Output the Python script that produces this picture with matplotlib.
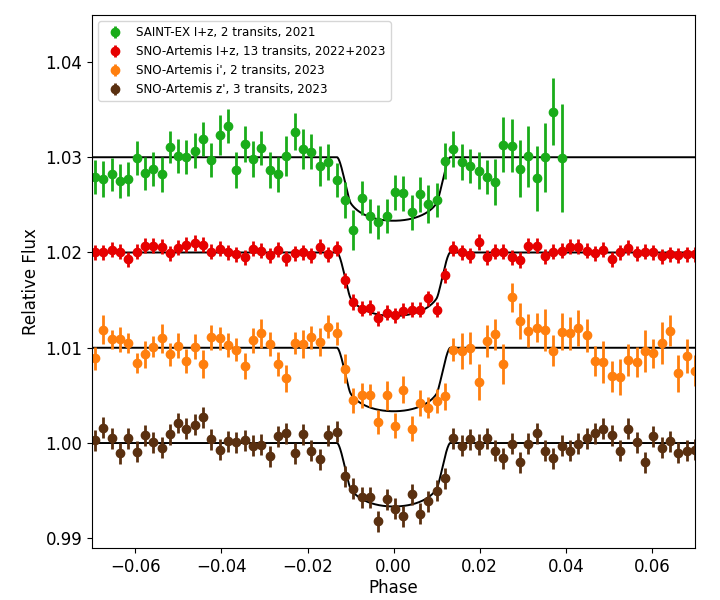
import numpy as np
import matplotlib
matplotlib.use("Agg")
import matplotlib.pyplot as plt

# bin centres in orbital phase (shared by all four light curves)
PHASE = [
    -0.0694, -0.0674, -0.0655, -0.0636, -0.0616, -0.0597, -0.0578, -0.0558, -0.0539, -0.0519,
    -0.0500, -0.0481, -0.0461, -0.0442, -0.0423, -0.0403, -0.0384, -0.0365, -0.0345, -0.0326,
    -0.0307, -0.0287, -0.0268, -0.0249, -0.0229, -0.0210, -0.0191, -0.0171, -0.0152, -0.0132,
    -0.0113, -0.0094, -0.0074, -0.0055, -0.0036, -0.0016, 0.0003, 0.0022, 0.0042, 0.0061,
    0.0080, 0.0100, 0.0119, 0.0138, 0.0158, 0.0177, 0.0197, 0.0216, 0.0235, 0.0255,
    0.0274, 0.0293, 0.0313, 0.0332, 0.0351, 0.0371, 0.0390, 0.0409, 0.0429, 0.0448,
    0.0467, 0.0487, 0.0506, 0.0525, 0.0545, 0.0564, 0.0584, 0.0603, 0.0622, 0.0642,
    0.0661, 0.0680, 0.0700,
]

# SAINT-EX (offset +0.03), only first 57 bins
GREEN_FLUX = [
    1.0279, 1.0277, 1.0282, 1.0275, 1.0277, 1.0299, 1.0283, 1.0288, 1.0282, 1.0311,
    1.0301, 1.0300, 1.0307, 1.0319, 1.0297, 1.0323, 1.0333, 1.0287, 1.0314, 1.0298,
    1.0310, 1.0287, 1.0282, 1.0301, 1.0327, 1.0309, 1.0306, 1.0291, 1.0295, 1.0276,
    1.0255, 1.0224, 1.0257, 1.0238, 1.0232, 1.0238, 1.0263, 1.0262, 1.0242, 1.0261,
    1.0251, 1.0255, 1.0296, 1.0309, 1.0295, 1.0291, 1.0286, 1.0279, 1.0274, 1.0313,
    1.0312, 1.0288, 1.0301, 1.0278, 1.0300, 1.0348, 1.0299,
]
GREEN_ERR = [
    0.0018, 0.0019, 0.0017, 0.0018, 0.0018, 0.0018, 0.0017, 0.0018, 0.0018, 0.0017,
    0.0018, 0.0018, 0.0018, 0.0018, 0.0018, 0.0021, 0.0018, 0.0019, 0.0019, 0.0019,
    0.0018, 0.0019, 0.0018, 0.0021, 0.0019, 0.0021, 0.0018, 0.0021, 0.0019, 0.0018,
    0.0019, 0.0021, 0.0018, 0.0018, 0.0018, 0.0018, 0.0018, 0.0018, 0.0018, 0.0018,
    0.0020, 0.0018, 0.0019, 0.0019, 0.0019, 0.0018, 0.0019, 0.0018, 0.0024, 0.0029,
    0.0028, 0.0030, 0.0032, 0.0034, 0.0036, 0.0035, 0.0057,
]

# SNO-Artemis I+z (offset +0.02)
RED_FLUX = [
    1.0200, 1.0200, 1.0203, 1.0201, 1.0193, 1.0201, 1.0207, 1.0207, 1.0206, 1.0199,
    1.0205, 1.0208, 1.0210, 1.0208, 1.0201, 1.0204, 1.0200, 1.0198, 1.0195, 1.0204,
    1.0202, 1.0197, 1.0203, 1.0194, 1.0199, 1.0200, 1.0197, 1.0206, 1.0198, 1.0204,
    1.0171, 1.0148, 1.0141, 1.0142, 1.0131, 1.0137, 1.0134, 1.0139, 1.0140, 1.0140,
    1.0152, 1.0140, 1.0176, 1.0204, 1.0200, 1.0197, 1.0211, 1.0195, 1.0201, 1.0201,
    1.0195, 1.0192, 1.0207, 1.0207, 1.0196, 1.0201, 1.0202, 1.0206, 1.0206, 1.0202,
    1.0199, 1.0203, 1.0193, 1.0200, 1.0205, 1.0199, 1.0201, 1.0200, 1.0196, 1.0198,
    1.0197, 1.0198, 1.0198,
]
RED_ERR = 0.0008

# SNO-Artemis i' (offset +0.01)
ORANGE_FLUX = [
    1.0089, 1.0119, 1.0109, 1.0109, 1.0105, 1.0084, 1.0093, 1.0101, 1.0110, 1.0093,
    1.0102, 1.0086, 1.0101, 1.0083, 1.0111, 1.0110, 1.0103, 1.0098, 1.0081, 1.0108,
    1.0115, 1.0104, 1.0083, 1.0068, 1.0105, 1.0104, 1.0111, 1.0106, 1.0122, 1.0115,
    1.0078, 1.0045, 1.0050, 1.0050, 1.0022, 1.0050, 1.0018, 1.0056, 1.0015, 1.0042,
    1.0037, 1.0044, 1.0049, 1.0098, 1.0097, 1.0100, 1.0064, 1.0107, 1.0114, 1.0083,
    1.0153, 1.0128, 1.0118, 1.0121, 1.0119, 1.0097, 1.0117, 1.0115, 1.0121, 1.0113,
    1.0086, 1.0085, 1.0070, 1.0069, 1.0087, 1.0085, 1.0097, 1.0094, 1.0105, 1.0118,
    1.0073, 1.0091, 1.0076,
]
ORANGE_ERR = [
    0.0012, 0.0015, 0.0010, 0.0013, 0.0011, 0.0011, 0.0014, 0.0011, 0.0015, 0.0012,
    0.0013, 0.0013, 0.0013, 0.0015, 0.0013, 0.0012, 0.0013, 0.0012, 0.0014, 0.0013,
    0.0015, 0.0013, 0.0013, 0.0014, 0.0012, 0.0015, 0.0012, 0.0015, 0.0012, 0.0012,
    0.0015, 0.0013, 0.0013, 0.0012, 0.0013, 0.0015, 0.0013, 0.0014, 0.0013, 0.0014,
    0.0011, 0.0013, 0.0014, 0.0012, 0.0019, 0.0017, 0.0019, 0.0017, 0.0016, 0.0021,
    0.0015, 0.0019, 0.0017, 0.0015, 0.0022, 0.0016, 0.0019, 0.0017, 0.0019, 0.0017,
    0.0016, 0.0022, 0.0016, 0.0019, 0.0017, 0.0016, 0.0022, 0.0015, 0.0022, 0.0016,
    0.0019, 0.0018, 0.0016,
]

# SNO-Artemis z' (no offset)
BROWN_FLUX = [
    1.0003, 1.0016, 1.0005, 0.9989, 1.0005, 0.9991, 1.0008, 1.0001, 0.9995, 1.0009,
    1.0021, 1.0015, 1.0019, 1.0027, 1.0004, 0.9993, 1.0002, 1.0001, 1.0003, 0.9997,
    0.9998, 0.9986, 1.0007, 1.0010, 0.9989, 1.0009, 0.9992, 0.9983, 1.0008, 1.0012,
    0.9965, 0.9952, 0.9943, 0.9943, 0.9918, 0.9941, 0.9931, 0.9923, 0.9946, 0.9926,
    0.9939, 0.9950, 0.9963, 1.0005, 0.9997, 1.0004, 0.9998, 1.0005, 0.9992, 0.9984,
    0.9999, 0.9980, 0.9999, 1.0010, 0.9992, 0.9984, 0.9997, 0.9992, 0.9999, 1.0005,
    1.0010, 1.0015, 1.0008, 0.9992, 1.0015, 1.0001, 0.9980, 1.0007, 0.9995, 1.0002,
    0.9990, 0.9992, 0.9993,
]
BROWN_ERR = 0.0011

LABELS = [
    "SAINT-EX I+z, 2 transits, 2021",
    "SNO-Artemis I+z, 13 transits, 2022+2023",
    "SNO-Artemis i', 2 transits, 2023",
    "SNO-Artemis z', 3 transits, 2023",
]
OFFSETS = [0.03, 0.02, 0.01, 0.0]
COLORS = ["#1aac1a", "#e60000", "#ff7f0e", "#5a3010"]


def transit_model(phase, p=0.0785, b=0.64, a_scale=66.2, u1=0.45, u2=0.2, n=160):
    # brute-force limb-darkened occultation, planet disc sampled on a grid
    g = np.linspace(-p, p, n)
    dx, dy = np.meshgrid(g, g)
    inside = dx**2 + dy**2 <= p**2
    dx, dy = dx[inside], dy[inside]
    cell = (g[1] - g[0]) ** 2
    norm = np.pi * (1 - u1 / 3 - u2 / 6)
    z = np.sqrt((a_scale * phase) ** 2 + b**2)
    flux = np.ones_like(phase)
    for i, zi in enumerate(z):
        if zi >= 1 + p:
            continue
        r2 = (zi + dx) ** 2 + dy**2
        mu = np.sqrt(1 - r2[r2 < 1])
        inten = 1 - u1 * (1 - mu) - u2 * (1 - mu) ** 2
        flux[i] = 1 - inten.sum() * cell / norm
    return flux


def main():
    fig = plt.figure(figsize=(7.2, 6), dpi=100)
    ax = fig.add_axes([0.128, 0.0862, 0.8375, 0.8883])

    phase = np.array(PHASE)
    series = [
        (phase[: len(GREEN_FLUX)], GREEN_FLUX, GREEN_ERR),
        (phase, RED_FLUX, RED_ERR),
        (phase, ORANGE_FLUX, ORANGE_ERR),
        (phase, BROWN_FLUX, BROWN_ERR),
    ]

    model_x = np.linspace(-0.07, 0.07, 1401)
    model = transit_model(model_x)
    for off in OFFSETS:
        ax.plot(model_x, model + off, color="k", lw=1.4, zorder=1)

    for (x, y, e), c, lab in zip(series, COLORS, LABELS):
        ax.errorbar(x, y, yerr=e, fmt="o", color=c, ms=6, elinewidth=2,
                    capsize=0, label=lab, zorder=2)

    ax.set_xlim(-0.07, 0.07)
    ax.set_ylim(0.98895, 1.0449)
    ax.set_xticks([-0.06, -0.04, -0.02, 0.0, 0.02, 0.04, 0.06])
    ax.set_yticks([0.99, 1.00, 1.01, 1.02, 1.03, 1.04])
    ax.tick_params(labelsize=12)
    ax.set_xlabel("Phase", fontsize=12, labelpad=2)
    ax.set_ylabel("Relative Flux", fontsize=12)
    ax.legend(loc="upper left", fontsize=8.6)

    fig.savefig("out.png", dpi=100)
    plt.close(fig)


if __name__ == "__main__":
    main()
